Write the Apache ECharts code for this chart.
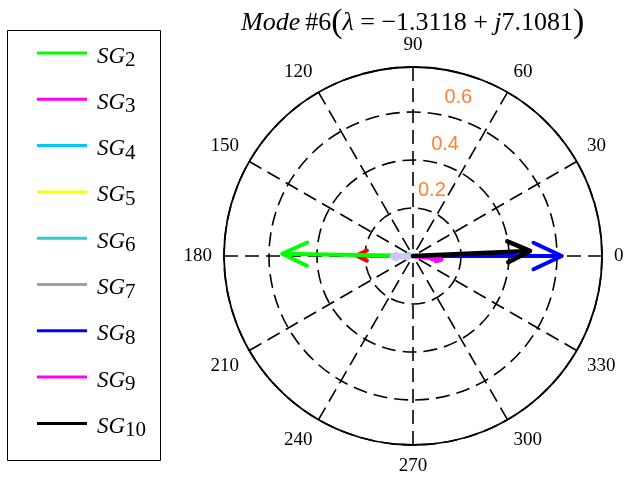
<!DOCTYPE html>
<html><head><meta charset="utf-8">
<script src="https://cdn.jsdelivr.net/npm/echarts@6/dist/echarts.min.js"></script>
<style>html,body{margin:0;padding:0;background:#fff}#c{width:628px;height:482px}</style>
</head><body><div id="c"></div>
<script>
// ---- data ----
const seriesNames = ['SG1','SG2','SG3','SG4','SG5','SG6','SG7','SGx','SG8','SG9','SG10'];
const legendNames = ['SG2','SG3','SG4','SG5','SG6','SG7','SG8','SG9','SG10'];
const magnitudes = [0.237, 0.545, 0.10, 0.03, 0.03, 0.02, 0.04, 0.085, 0.62, 0.12, 0.488];
const anglesDeg  = [179.5, 179, 356, 175, 200, 160, 185, 182, 0, 353, 2.5];
const radiusTicks = [0.2, 0.4, 0.6];
const radiusMax = 0.7875;
const angleTicks = [0,30,60,90,120,150,180,210,240,270,300,330];

// ---- styles ----
const colors = ['#ff0000','#00ff00','#ff00ff','#00c8ff','#ffff00','#33cccc','#a0a0a0','#c8c8f0','#0000ff','#ff00ff','#000000'];
const widths = [4,4,4,4,4,4,4,6,4,4,4.5];

function toPolar(x, y) {
  let a = Math.atan2(y, x) * 180 / Math.PI;
  if (a < 0) a += 360;
  return [Math.hypot(x, y), a];
}
function arrowData(r, deg) {
  const t = deg * Math.PI / 180;
  const x = r * Math.cos(t), y = r * Math.sin(t);
  const h = 0.19 * r, w = 0.47 * h;
  const bx = x - h * Math.cos(t), by = y - h * Math.sin(t);
  const nx = -Math.sin(t), ny = Math.cos(t);
  const a1 = toPolar(bx + w * nx, by + w * ny);
  const a2 = toPolar(bx - w * nx, by - w * ny);
  return [[0, deg], [r, deg], a1, [r, deg], a2];
}

const series = seriesNames.map((n, i) => ({
  name: n, type: 'line', coordinateSystem: 'polar',
  symbol: 'none', silent: true, animation: false,
  color: colors[i],
  lineStyle: { color: colors[i], width: widths[i], cap: 'round', join: 'round' },
  data: arrowData(magnitudes[i], anglesDeg[i]),
  z: 3 + i
}));
series.push({
  type: 'scatter', coordinateSystem: 'polar', symbolSize: 0, silent: true, animation: false,
  data: radiusTicks.map(v => [v + 0.085, 74, v]),
  label: { show: true, position: 'inside', formatter: p => p.data[2].toFixed(1),
    color: '#ff6000', fontFamily: 'Liberation Sans', fontSize: 20 },
  z: 20
});

const chart = echarts.init(document.getElementById('c'), null, { renderer: 'canvas' });
chart.setOption({
  animation: false,
  title: {
    text: '{i|Mode} {n|#6}{p|(}{i|λ}{n| = −1.3118 + }{i|j}{n|7.1081}{p|)}',
    left: 236, top: 1,
    textStyle: { fontWeight: 'normal', rich: {
      i: { fontFamily: 'Liberation Serif', fontStyle: 'italic', fontWeight: 'normal', fontSize: 26, color: '#000' },
      n: { fontFamily: 'Liberation Serif', fontWeight: 'normal', fontSize: 26, color: '#000' },
      p: { fontFamily: 'Liberation Serif', fontWeight: 'normal', fontSize: 34, color: '#000' }
    } }
  },
  legend: {
    data: legendNames, orient: 'vertical', left: 37, top: 35, height: 440, padding: 0,
    icon: 'rect', itemWidth: 50, itemHeight: 3, itemGap: 10.3,
    formatter: n => '{s|SG}{b|' + n.slice(2) + '}',
    textStyle: { padding: [0, 0, 0, 5], rich: {
      s: { fontFamily: 'Liberation Serif', fontStyle: 'italic', fontSize: 23, color: '#000', verticalAlign: 'bottom', lineHeight: 30 },
      b: { fontFamily: 'Liberation Serif', fontSize: 21, color: '#000', padding: [15, 0, 0, 0], lineHeight: 30 }
    } },
    selectedMode: false
  },
  graphic: [{ type: 'rect', shape: { x: 7.5, y: 30.5, width: 153, height: 430 },
    style: { fill: 'none', stroke: '#000', lineWidth: 1 }, silent: true }],
  polar: { center: [413, 256], radius: 189 },
  angleAxis: {
    type: 'value', min: 0, max: 360, interval: 30, startAngle: 0, clockwise: false,
    axisLine: { lineStyle: { color: '#000', width: 1.8 } },
    axisTick: { show: false },
    axisLabel: { color: '#000', fontFamily: 'Liberation Serif', fontSize: 19, margin: 12,
      formatter: v => angleTicks.indexOf(v) >= 0 ? String(v) : '' },
    splitLine: { show: true, lineStyle: { color: '#000', width: 1.6, type: [14, 7] } }
  },
  radiusAxis: {
    type: 'value', min: 0, max: radiusMax, interval: 0.2,
    axisLine: { show: false }, axisTick: { show: false }, axisLabel: { show: false },
    splitLine: { show: true, lineStyle: { color: '#000', width: 1.6, type: [14, 7] } }
  },
  series: series
});
</script></body></html>
